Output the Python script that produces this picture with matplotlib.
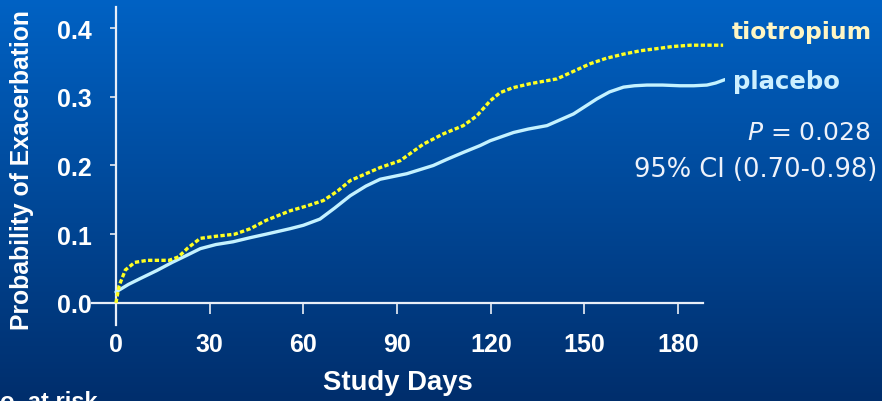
import numpy as np
import matplotlib
matplotlib.use("Agg")
import matplotlib.pyplot as plt

# values (study day, probability)
tio_days = [0, 1, 3, 6, 10, 17, 20, 23, 27, 32, 38, 43, 48, 55.7, 61, 66.4, 71, 75, 80, 84.6, 91,
            98.4, 104.8, 111.2, 115.5, 119.8, 123, 127, 132.6, 141.2, 146, 151.8, 157, 162.5,
            168, 173.2, 178, 183.9, 189, 194.4]
tio_prob = [0.0, 0.025, 0.048, 0.059, 0.062, 0.062, 0.067, 0.080, 0.094, 0.097, 0.100, 0.108,
            0.120, 0.134, 0.141, 0.149, 0.163, 0.178, 0.188, 0.197, 0.207,
            0.231, 0.246, 0.258, 0.272, 0.294, 0.306, 0.313, 0.319, 0.326, 0.336, 0.348, 0.356,
            0.362, 0.367, 0.370, 0.373, 0.375, 0.375, 0.375]

pla_days = [0, 4, 8, 13, 18, 23, 27, 32, 37.5, 43, 48, 55.7, 60, 65.3, 70, 75, 80, 84.6, 93.1,
            101.6, 106, 111.2, 116.6, 119.8, 127.3, 132, 138, 146.5, 154, 158, 162.5, 166,
            170, 175, 180.6, 185, 189.2, 192, 195]
pla_prob = [0.016, 0.027, 0.036, 0.047, 0.059, 0.070, 0.079, 0.085, 0.089, 0.095, 0.100, 0.108,
            0.113, 0.122, 0.138, 0.156, 0.170, 0.180, 0.188,
            0.200, 0.209, 0.219, 0.229, 0.236, 0.248, 0.253, 0.258, 0.275, 0.297, 0.307, 0.314,
            0.316, 0.317, 0.317, 0.316, 0.316, 0.317, 0.320, 0.325]

xticks = [0, 30, 60, 90, 120, 150, 180]
yticks = [0.0, 0.1, 0.2, 0.3, 0.4]

fig = plt.figure(figsize=(8.82, 4.02), dpi=100)

# blue gradient background
bg = fig.add_axes([0, 0, 1, 1], zorder=-1)
top = np.array([0, 98, 196]) / 255.0
bot = np.array([0, 46, 108]) / 255.0
t = np.linspace(0, 1, 256)[:, None]
grad = top[None, :] * (1 - t) + bot[None, :] * t
bg.imshow(grad[:, None, :], aspect="auto", extent=[0, 1, 0, 1])
bg.axis("off")

W, H = 882.0, 402.0
# axes box in pixels: left 91, right 725, top 8.4, bottom 328
ax = fig.add_axes([91 / W, 1 - 328 / H, (725 - 91) / W, (328 - 8.4) / H])
ax.patch.set_alpha(0)
ax.set_xlim(-8, 195)
ax.set_ylim(-0.035, 0.43)

ax.plot(pla_days, pla_prob, color="#c4f2ff", lw=2.4, solid_capstyle="round",
        solid_joinstyle="round", zorder=3)
ax.plot(tio_days, tio_prob, color="#ffff22", lw=2.4, linestyle=(0, (1.3, 0.7)), zorder=4)

for s in ["top", "right"]:
    ax.spines[s].set_visible(False)
ax.spines["left"].set_position(("data", 0))
ax.spines["bottom"].set_position(("data", 0))
ax.spines["left"].set_bounds(-0.032, 0.43)
ax.spines["bottom"].set_bounds(-7.7, 188)
for s in ["left", "bottom"]:
    ax.spines[s].set_color("#e8eef8")
    ax.spines[s].set_linewidth(1.6)

ax.set_xticks(xticks)
ax.set_yticks(yticks)
ax.set_xticklabels([str(v) for v in xticks])
ax.set_yticklabels(["%.1f" % v for v in yticks])
ax.tick_params(axis="x", direction="out", length=8, width=1.4, color="#c8d4e4", pad=13,
               labelsize=18, labelcolor="white")
ax.tick_params(axis="y", direction="out", length=4.5, width=1.4, color="#c8d4e4", pad=13,
               labelsize=18, labelcolor="white")
for lab in ax.get_xticklabels() + ax.get_yticklabels():
    lab.set_fontfamily("Liberation Sans")
    lab.set_fontweight("bold")

fig.text(22 / W, 1 - 170 / H, "Probability of Exacerbation", rotation=90, ha="center",
         va="center", color="white", fontsize=17.8, fontweight="bold", family="Liberation Sans")
fig.text(398 / W, 1 - 383 / H, "Study Days", ha="center", va="center", color="white",
         fontsize=19.8, fontweight="bold", family="Liberation Sans")
fig.text(-17 / W, 1 - 391 / H, "No. at risk", ha="left", va="top", color="white",
         fontsize=17, fontweight="bold", family="Liberation Sans")

fig.text(732 / W, 1 - 32 / H, "tiotropium", ha="left", va="center", color="#fff6c4",
         fontsize=16.8, fontweight="bold", family="DejaVu Sans")
fig.text(733 / W, 1 - 82 / H, "placebo", ha="left", va="center", color="#cdf0ff",
         fontsize=17.6, fontweight="bold", family="DejaVu Sans")
fig.text(871 / W, 1 - 133 / H, "$\\mathit{P}$ = 0.028", ha="right", va="center",
         color="#eef2fa", fontsize=18, family="DejaVu Sans")
fig.text(877 / W, 1 - 170 / H, "95% CI (0.70-0.98)", ha="right", va="center",
         color="#eef2fa", fontsize=18.5, family="DejaVu Sans")

fig.savefig("out.png", dpi=100)
